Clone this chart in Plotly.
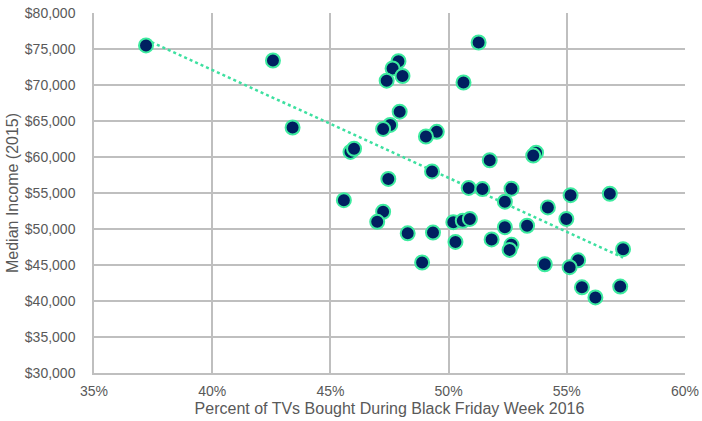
import numpy as np
import plotly.graph_objects as go

# Percent of TVs bought during Black Friday week 2016 (%)
pct_tvs = [37.2, 42.57, 43.4, 45.85, 46.0, 45.57, 47.88, 47.63, 48.05, 47.38,
           51.27, 50.63, 47.93, 47.53, 47.23, 49.5, 49.04, 51.74, 53.7, 53.58,
           49.3, 47.45, 50.85, 51.43, 52.66, 52.38, 54.2, 55.16, 56.82, 47.23,
           46.98, 48.27, 49.34, 48.88, 50.2, 50.6, 50.9, 50.29, 51.82, 52.38,
           53.32, 52.66, 52.58, 54.98, 57.38, 54.07, 55.48, 55.12, 55.64, 56.21,
           57.26]
# Median income (2015), USD
median_income = [75500, 73400, 64100, 60700, 61150, 54000, 73300, 72300, 71250, 70600,
                 75900, 70350, 66300, 64450, 63900, 63500, 62850, 59550, 60600, 60200,
                 58000, 56950, 55700, 55550, 55600, 53800, 53000, 54700, 54900, 52400,
                 51000, 49400, 49500, 45350, 50950, 51150, 51400, 48200, 48550, 50250,
                 50450, 47800, 47100, 51400, 47200, 45100, 45650, 44700, 41900, 40500,
                 42000]

x_ticks = [35, 40, 45, 50, 55, 60]
x_tick_labels = ["35%", "40%", "45%", "50%", "55%", "60%"]
y_ticks = [30000, 35000, 40000, 45000, 50000, 55000, 60000, 65000, 70000, 75000, 80000]
y_tick_labels = ["$30,000", "$35,000", "$40,000", "$45,000", "$50,000", "$55,000",
                 "$60,000", "$65,000", "$70,000", "$75,000", "$80,000"]

# Linear trendline fitted to the data
xa = np.array(pct_tvs)
ya = np.array(median_income)
slope, intercept = np.polyfit(xa, ya, 1)
trend_x = [xa.min(), xa.max()]
trend_y = [slope * v + intercept for v in trend_x]

grid = "#BFBFBF"
txt = "#595959"
font_family = "Liberation Sans, Arial, sans-serif"

fig = go.Figure()
fig.add_trace(go.Scatter(
    x=trend_x, y=trend_y, mode="lines",
    line=dict(color="#3DE0A0", width=2.5, dash="dot"),
    hoverinfo="skip", showlegend=False,
))
fig.add_trace(go.Scatter(
    x=pct_tvs, y=median_income, mode="markers",
    marker=dict(size=14, color="#002060", line=dict(color="#3DEB9F", width=2)),
    showlegend=False,
))

fig.update_layout(
    width=702, height=421,
    margin=dict(l=94, r=17, t=13, b=48),
    paper_bgcolor="white", plot_bgcolor="white",
    font=dict(family=font_family, color=txt, size=14),
)
fig.update_xaxes(
    range=[35, 60], tickmode="array", tickvals=x_ticks, ticktext=x_tick_labels,
    showgrid=True, gridcolor=grid, gridwidth=1.5,
    showline=True, linecolor=grid, linewidth=1.5,
    zeroline=False, ticks="outside", ticklen=4, tickcolor="rgba(0,0,0,0)",
    tickfont=dict(size=14, color=txt), automargin=False,
    title=dict(text="Percent of TVs Bought During Black Friday Week 2016",
               font=dict(size=16, color=txt), standoff=5),
)
fig.update_yaxes(
    range=[30000, 80000], tickmode="array", tickvals=y_ticks, ticktext=y_tick_labels,
    showgrid=True, gridcolor=grid, gridwidth=1.5,
    showline=True, linecolor=grid, linewidth=1.5,
    zeroline=False, ticks="outside", ticklen=14, tickcolor="rgba(0,0,0,0)",
    tickfont=dict(size=14, color=txt), automargin=False,
    title=dict(text="Median Income (2015)", font=dict(size=16, color=txt), standoff=2),
)

fig.write_html("out.html", config={"displayModeBar": False},
               post_script="document.body.style.margin='0';")
